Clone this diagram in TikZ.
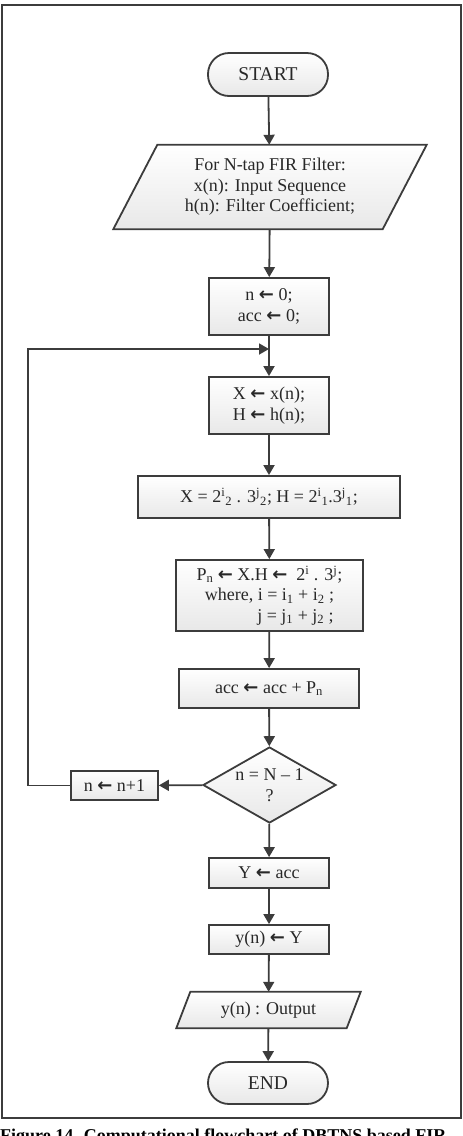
\documentclass[tikz,border=0pt]{standalone}
\usepackage{fontspec}
\setmainfont{Liberation Serif}
\newfontfamily\arrowfont{DejaVu Sans}
\usetikzlibrary{arrows.meta,shapes.geometric,backgrounds}
\definecolor{linec}{HTML}{3C3C3C}
\definecolor{textc}{HTML}{282828}
\newcommand\lar{{\arrowfont\bfseries ←}}
\begin{document}
\begin{tikzpicture}[x=1pt,y=-1pt,
  every node/.style={text=textc, font=\fontsize{18}{20.5}\selectfont},
  boxfill/.style={top color=white, bottom color=black!9, draw=linec, line width=1.8pt},
  procbox/.style={rectangle, boxfill, inner sep=2pt, align=center},
  termbox/.style={rectangle, boxfill, rounded corners=21pt, minimum width=120pt, minimum height=43pt, font=\fontsize{19.5}{22}\selectfont},
  iobox/.style={rectangle, inner sep=0pt, align=center},
  decbox/.style={diamond, boxfill, aspect=1.75, minimum width=133pt, minimum height=76pt, inner sep=0pt, align=center},
  arr/.style={draw=linec, line width=1.8pt, -{Triangle[length=10pt,width=11pt]}},
  frame/.style={draw=linec, line width=2.5pt}
]
\useasboundingbox (0,0) rectangle (463,1136);
\draw[frame] (2,5) rectangle (461,1118);

\node[termbox] (start) at (268,74.5) {START};
\node[iobox, minimum width=269pt, minimum height=84pt] (in) at (270,187)
  {For N-tap FIR Filter:\\x(n): Input Sequence\\h(n): Filter Coefficient;};
\node[procbox, minimum width=120pt, minimum height=57pt] (init) at (269,306.5) {n \lar{} 0;\\acc \lar{} 0;};
\node[procbox, minimum width=120pt, minimum height=57pt] (load) at (269,405.5) {X \lar{} x(n);\\H \lar{} h(n);};
\node[procbox, minimum width=262pt, minimum height=42pt] (conv) at (269,497)
  {X = 2\textsuperscript{i}\textsubscript{2} . 3\textsuperscript{j}\textsubscript{2}; H = 2\textsuperscript{i}\textsubscript{1}.3\textsuperscript{j}\textsubscript{1};};
\node[procbox, minimum width=187pt, minimum height=71pt] (prod) at (269.5,595.5)
  {P\textsubscript{n} \lar{} X.H \lar{}\ \ 2\textsuperscript{i} . 3\textsuperscript{j};\\
   where, i = i\textsubscript{1} + i\textsubscript{2} ;\\
   \hspace*{52pt}j = j\textsubscript{1} + j\textsubscript{2} ;};
\node[procbox, minimum width=180pt, minimum height=39pt] (accu) at (269,688.5) {acc \lar{} acc + P\textsubscript{n}};
\node[decbox] (dec) at (269.5,785) {n = N – 1\\?};
\node[procbox, minimum width=87pt, minimum height=29pt, inner sep=1pt] (incr) at (114.5,785.5) {n \lar{} n+1};
\node[procbox, minimum width=120pt, minimum height=30pt] (yacc) at (269,873) {Y \lar{} acc};
\node[procbox, minimum width=120pt, minimum height=29pt] (yout) at (269,939.5) {y(n) \lar{} Y};
\node[iobox, minimum width=170pt, minimum height=36pt] (out) at (268.5,1010) {y(n) : Output};
\node[termbox, minimum height=42pt, rounded corners=21pt] (end) at (268,1083) {END};

\begin{scope}[on background layer]
  \path[boxfill] ([xshift=22pt]in.north west) -- ([xshift=22pt]in.north east)
    -- ([xshift=-22pt]in.south east) -- ([xshift=-22pt]in.south west) -- cycle;
  \path[boxfill] ([xshift=7pt]out.north west) -- ([xshift=7pt]out.north east)
    -- ([xshift=-7pt]out.south east) -- ([xshift=-7pt]out.south west) -- cycle;
\end{scope}

\coordinate (jn) at (269,349);
\coordinate (lp) at (28,349);

\draw[arr] (start) -- (in);
\draw[arr] (in) -- (init);
\draw[arr] (init) -- (load);
\draw[arr] (load) -- (conv);
\draw[arr] (conv) -- (prod);
\draw[arr] (prod) -- (accu);
\draw[arr] (accu) -- (dec);
\draw[arr] (dec) -- (incr);
\draw[arr] (incr.west) -| (lp) -- (jn);
\draw[arr] (dec) -- (yacc);
\draw[arr] (yacc) -- (yout);
\draw[arr] (yout) -- (out);
\draw[arr] (out) -- (end);

\node[anchor=base west, inner sep=0pt, text=black, font=\fontsize{18}{20}\selectfont\bfseries] (cap) at (0,1141)
  {Figure 14. Computational flowchart of DBTNS based FIR};
\end{tikzpicture}
\end{document}
